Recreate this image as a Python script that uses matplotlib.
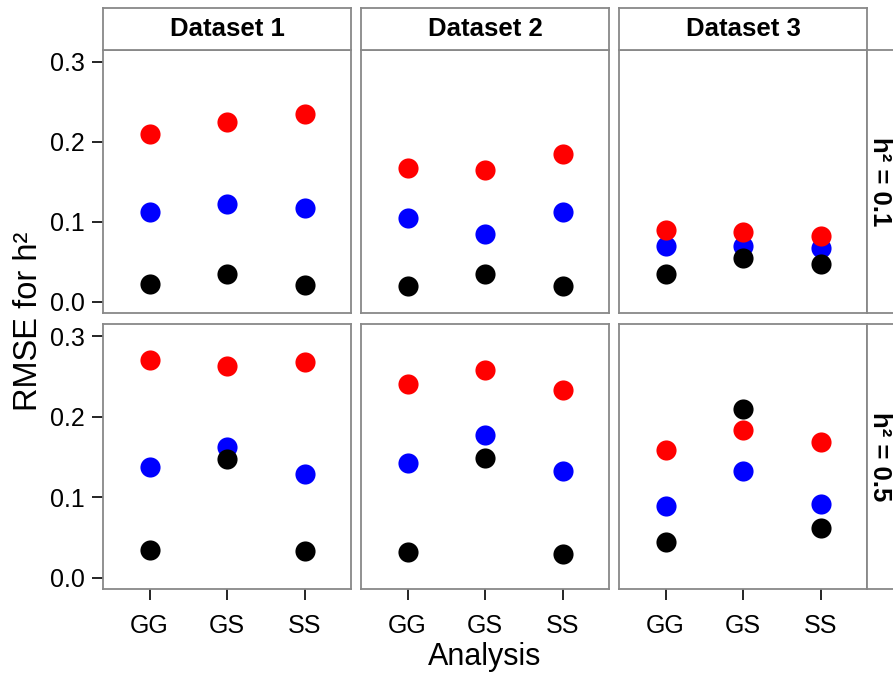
import matplotlib
matplotlib.use('Agg')
import matplotlib.pyplot as plt

plt.rcParams['font.family'] = ['Liberation Sans', 'DejaVu Sans']

# data
analyses = ['GG', 'GS', 'SS']
datasets = ['Dataset 1', 'Dataset 2', 'Dataset 3']
h2_labels = ['h\u00b2 = 0.1', 'h\u00b2 = 0.5']

# rows: h2 = 0.1, h2 = 0.5 ; inner lists: dataset 1..3, values for GG, GS, SS
blue_vals = [
    [[0.113, 0.123, 0.118], [0.105, 0.085, 0.113], [0.070, 0.070, 0.068]],
    [[0.137, 0.163, 0.129], [0.142, 0.177, 0.132], [0.089, 0.132, 0.092]],
]
black_vals = [
    [[0.023, 0.035, 0.021], [0.020, 0.035, 0.020], [0.035, 0.055, 0.048]],
    [[0.035, 0.147, 0.033], [0.032, 0.149, 0.030], [0.045, 0.209, 0.062]],
]
red_vals = [
    [[0.210, 0.225, 0.235], [0.168, 0.165, 0.185], [0.090, 0.088, 0.083]],
    [[0.270, 0.263, 0.268], [0.241, 0.258, 0.233], [0.159, 0.184, 0.169]],
]

W, H = 893, 677
fig = plt.figure(figsize=(W / 100, H / 100), dpi=100)

def px_axes(x0, y0, x1, y1):
    return fig.add_axes([x0 / W, 1 - y1 / H, (x1 - x0) / W, (y1 - y0) / H])

border = '#888888'
cols = [(103, 351), (361, 609), (619, 867)]
rows = [(50, 313), (324, 589)]

def frame(ax):
    for s in ax.spines.values():
        s.set_color(border)
        s.set_linewidth(1.3)

for r, (y0, y1) in enumerate(rows):
    for c, (x0, x1) in enumerate(cols):
        ax = px_axes(x0, y0, x1, y1)
        frame(ax)
        xs = range(1, len(analyses) + 1)
        for vals, col in [(blue_vals, '#0000FF'), (black_vals, '#000000'), (red_vals, '#FF0000')]:
            ax.scatter(xs, vals[r][c], s=210, color=col, linewidths=0, zorder=3)
        ax.set_xlim(0.4, 3.6)
        ax.set_ylim(-0.0138, 0.315)
        ax.set_xticks(list(xs))
        ax.set_yticks([0.0, 0.1, 0.2, 0.3])
        ax.tick_params(length=8, width=1.2, color='black', labelsize=18)
        ax.tick_params(axis='y', pad=5)
        ax.tick_params(axis='x', pad=10)
        if r == len(rows) - 1:
            ax.set_xticklabels(analyses)
        else:
            ax.tick_params(axis='x', bottom=False, labelbottom=False)
        if c == 0:
            ax.set_yticklabels(['0.0', '0.1', '0.2', '0.3'])
        else:
            ax.tick_params(axis='y', left=False, labelleft=False)

# top strips
for c, (x0, x1) in enumerate(cols):
    st = px_axes(x0, 8, x1, 50)
    frame(st)
    st.set_xticks([])
    st.set_yticks([])
    st.text(0.5, 0.5, datasets[c], ha='center', va='center',
            fontsize=18.5, fontweight='bold', transform=st.transAxes)

# right strips (cut off by figure edge like the reference)
for r, (y0, y1) in enumerate(rows):
    st = px_axes(867, y0, 909, y1)
    frame(st)
    st.set_xticks([])
    st.set_yticks([])
    st.text(0.32, 0.5, h2_labels[r], ha='center', va='center', rotation=-90,
            fontsize=18.5, fontweight='bold', transform=st.transAxes)

fig.text(29 / W, 1 - 321 / H, 'RMSE for h\u00b2', rotation=90, ha='center', va='center', fontsize=23.5)
fig.text(485 / W, 1 - 657 / H, 'Analysis', ha='center', va='center', fontsize=22)

fig.savefig('out.png', dpi=100)
